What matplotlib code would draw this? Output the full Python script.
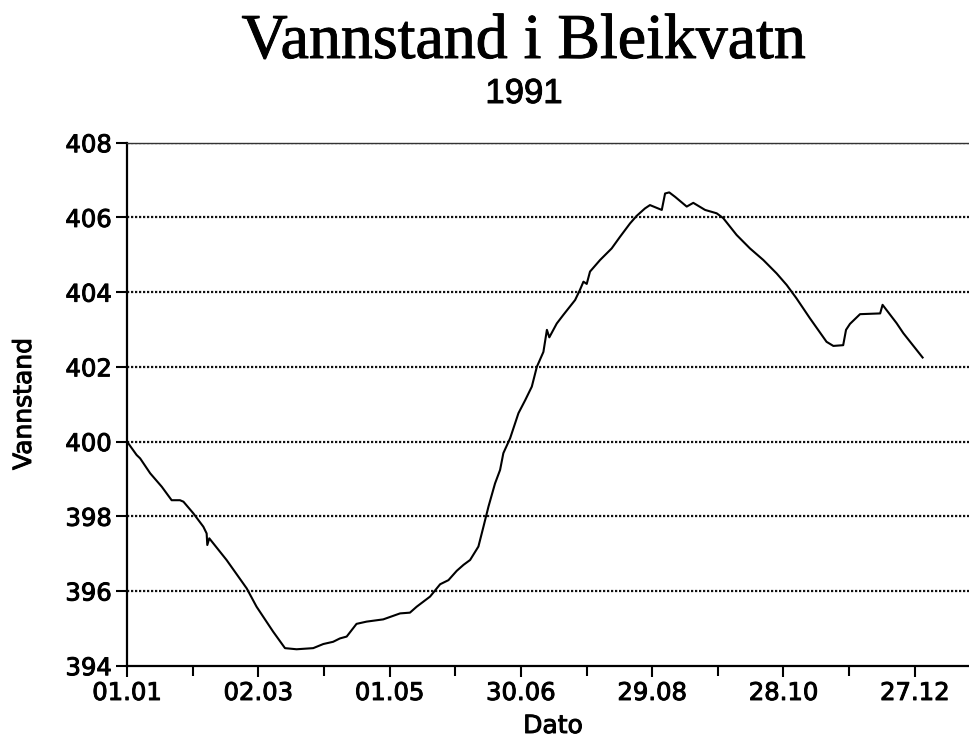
import matplotlib
matplotlib.use('Agg')
import matplotlib.pyplot as plt
import matplotlib.patheffects as pe
from matplotlib.ticker import MultipleLocator

# day of year (01.01 = 0) and water level
days = [0, 4.4, 6, 10.6, 15.9, 20.4, 24.2, 25.8, 30.3, 34.9, 36.4, 36.7, 37.6,
        45.5, 54.7, 59.2, 66.8, 72.2, 77.5, 85.1, 89.7, 94.2, 97.3, 100.4,
        104.9, 109.5, 117.1, 124.8, 129.3, 132.4, 138.5, 143.1, 146.9, 150.7,
        153.8, 156.8, 160.6, 162.9, 165.2, 168.2, 170.5, 172.0, 175.1, 178.9,
        182.0, 185.0, 187.3, 190.3, 191.9, 193.0, 196.4, 199.4, 204.8, 207.0,
        208.6, 210.1, 211.6, 216.2, 221.5, 225.3, 229.9, 232.9, 236.7, 239.0,
        244.4, 245.9, 247.8, 250.5, 255.8, 258.8, 264.2, 269.5, 272.5, 278.6,
        284.7, 290.8, 296.9, 301.5, 306.0, 312.1, 319.7, 322.8, 327.3, 328.6,
        330.4, 335.0, 344.2, 345.3, 351.7, 354.8, 363.6]
level = [400.0, 399.64, 399.55, 399.15, 398.79, 398.43, 398.43, 398.39, 398.08,
         397.72, 397.54, 397.23, 397.41, 396.83, 396.07, 395.58, 394.91, 394.47,
         394.44, 394.47, 394.58, 394.64, 394.73, 394.78, 395.12, 395.18, 395.24,
         395.40, 395.42, 395.58, 395.85, 396.18, 396.29, 396.54, 396.70, 396.83,
         397.19, 397.72, 398.26, 398.88, 399.24, 399.69, 400.09, 400.76, 401.11,
         401.47, 402.0, 402.40, 402.99, 402.79, 403.16, 403.39, 403.79, 404.06,
         404.28, 404.22, 404.55, 404.86, 405.17, 405.48, 405.84, 406.04, 406.24,
         406.33, 406.20, 406.64, 406.67, 406.55, 406.29, 406.39, 406.20, 406.11,
         405.98, 405.53, 405.17, 404.86, 404.50, 404.19, 403.83, 403.30, 402.67,
         402.56, 402.58, 402.99, 403.15, 403.41, 403.43, 403.66, 403.17, 402.90,
         402.25]

tick_days = [0, 60, 120, 180, 240, 300, 360]
tick_labels = ['01.01', '02.03', '01.05', '30.06', '29.08', '28.10', '27.12']
y_ticks = [394, 396, 398, 400, 402, 404, 406, 408]

# slight stroke to mimic the heavy scanned print
heavy = [pe.withStroke(linewidth=0.7, foreground='black')]

fig = plt.figure(figsize=(9.69, 7.37), dpi=100)
ax = fig.add_axes([127 / 969, 1 - 665.7 / 737, 842 / 969, 523 / 737])

ax.plot(days, level, color='black', lw=1.5)

ax.set_xlim(0, 384.8)
ax.set_ylim(394, 408)
ax.set_xticks(tick_days)
ax.set_xticklabels(tick_labels)
ax.xaxis.set_minor_locator(MultipleLocator(30))
ax.set_yticks(y_ticks)

for y in y_ticks[1:]:
    ax.axhline(y, color='#111111', lw=1.6, ls=(0, (1, 0.8)), zorder=0)

ax.spines['right'].set_visible(False)
ax.spines['top'].set_color('#333333')
ax.spines['top'].set_linewidth(1.0)
ax.spines['left'].set_linewidth(1.6)
ax.spines['bottom'].set_linewidth(1.6)

ax.tick_params(axis='both', which='both', direction='out', width=1.5,
               length=8, labelsize=17.5, color='black')
ax.tick_params(axis='x', which='minor', length=7)
ax.tick_params(axis='x', pad=3)
ax.tick_params(axis='y', pad=3)
for lbl in ax.get_xticklabels() + ax.get_yticklabels():
    lbl.set_path_effects(heavy)

fig.text(524 / 969, 1 - 58 / 737, 'Vannstand i Bleikvatn',
         family='Liberation Serif', size=46, ha='center', va='baseline',
         path_effects=heavy)
fig.text(524 / 969, 1 - 103 / 737, '1991',
         family='Liberation Sans', size=25, ha='center', va='baseline',
         path_effects=heavy)
fig.text(553 / 969, 1 - 733 / 737, 'Dato', size=18, ha='center',
         va='baseline', path_effects=heavy)
fig.text(24 / 969, 1 - 404 / 737, 'Vannstand', size=18, rotation=90,
         ha='center', va='center', path_effects=heavy)

fig.savefig('out.png', dpi=100, facecolor='white')
plt.close(fig)
